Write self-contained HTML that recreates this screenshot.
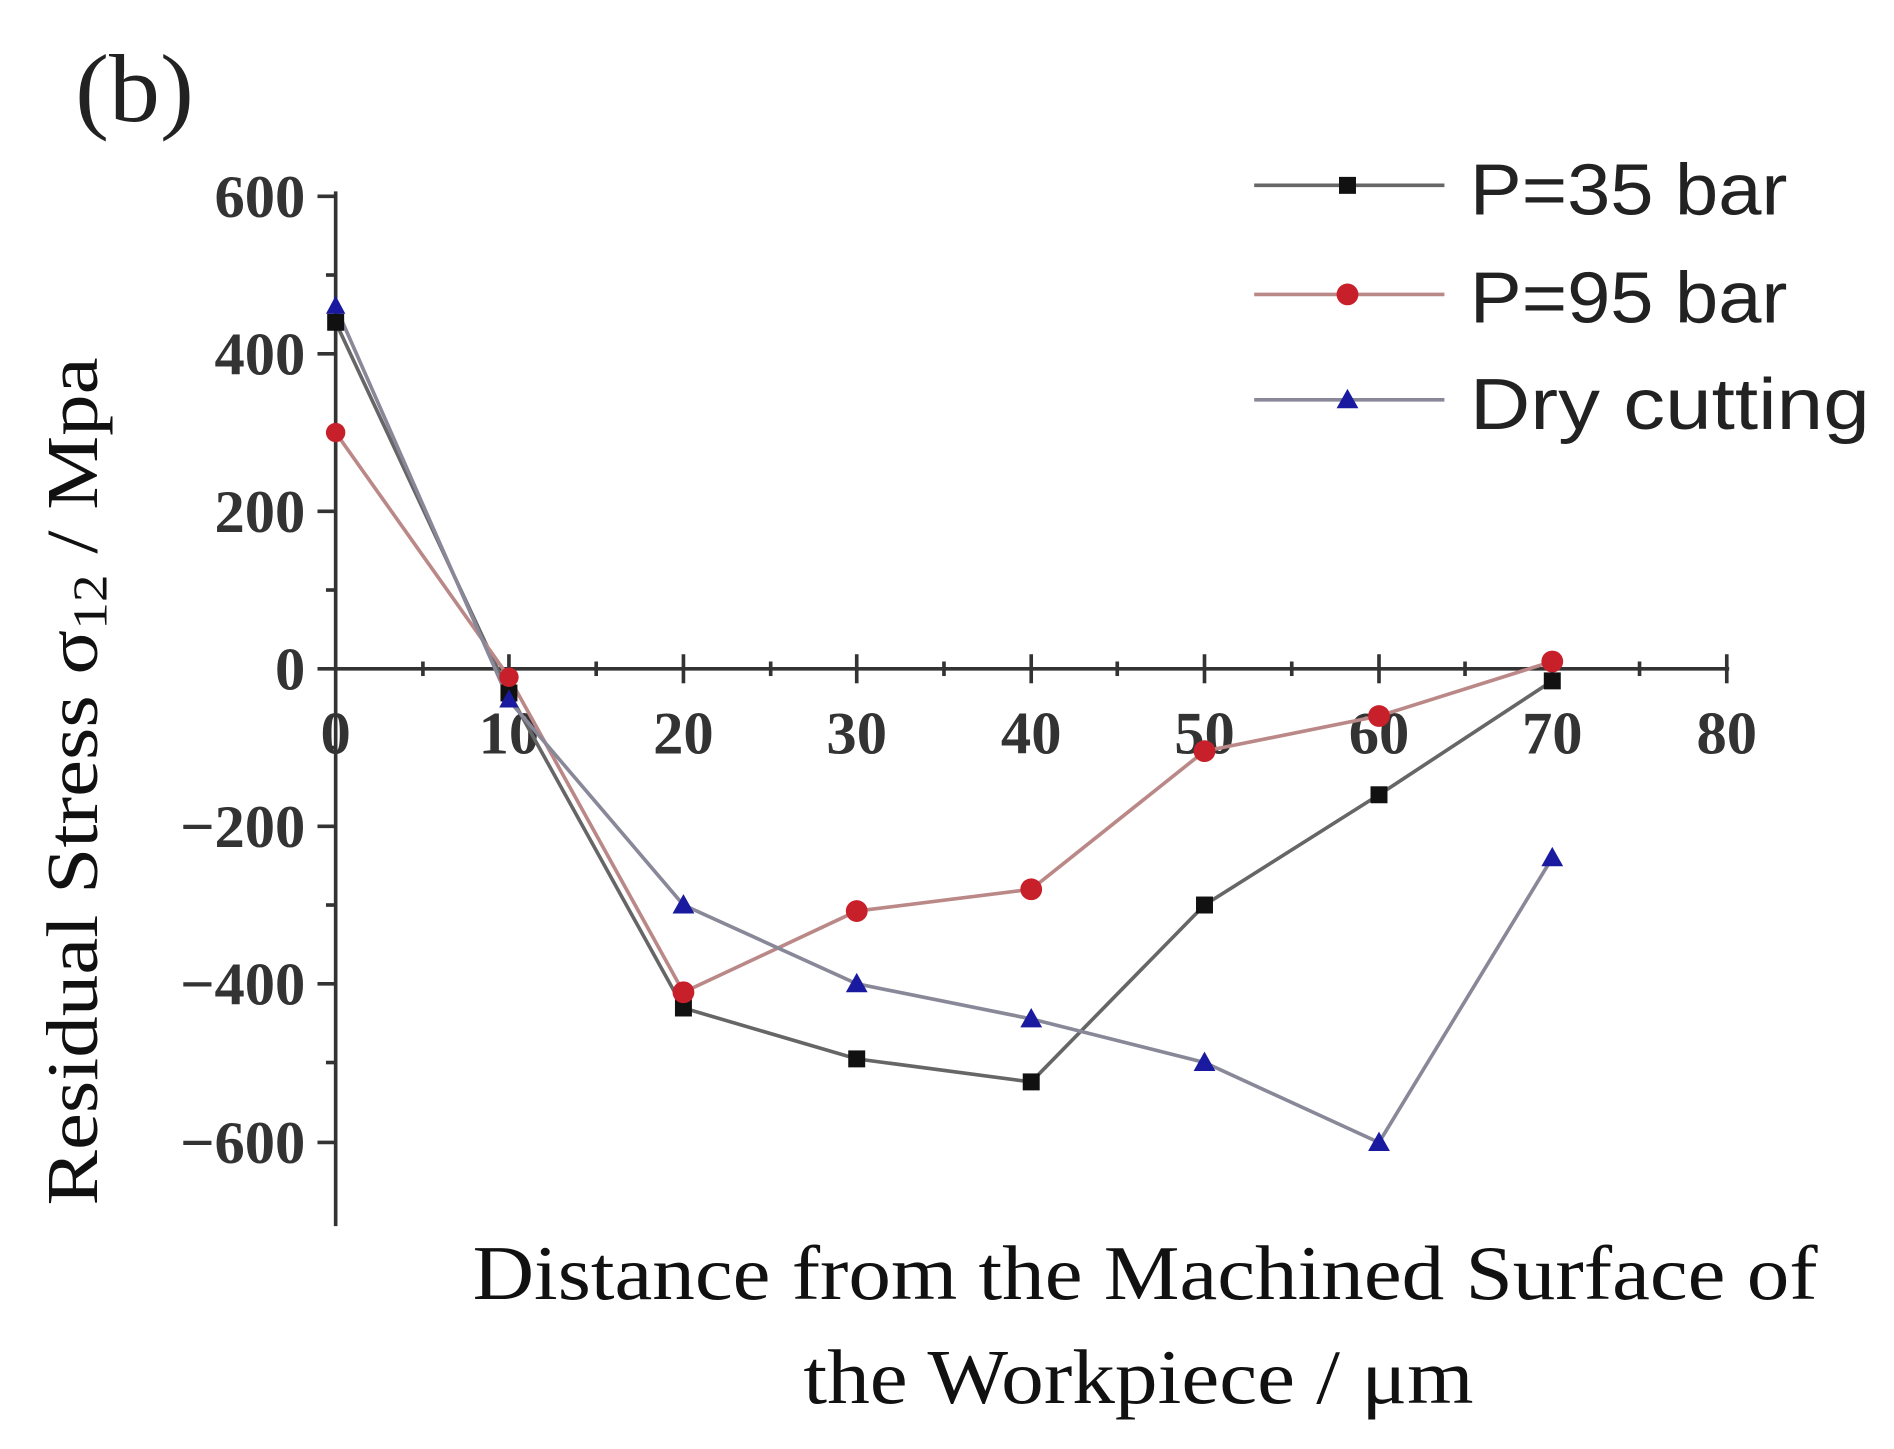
<!DOCTYPE html>
<html><head><style>html,body{margin:0;padding:0;background:#fff}svg{display:block}</style></head>
<body>
<svg width="1894" height="1449" viewBox="0 0 1563 1196" preserveAspectRatio="none" xmlns="http://www.w3.org/2000/svg" font-family="Liberation Serif, serif">
<rect width="1563" height="1196" fill="#fff"/>
<text x="62" y="100" font-size="80" fill="#222" textLength="98" lengthAdjust="spacingAndGlyphs">(b)</text>
<!-- axes -->
<g stroke="#333" stroke-width="3" fill="none">
<line x1="277" y1="158" x2="277" y2="1012"/>
<line x1="277" y1="552" x2="1427" y2="552"/>
</g>
<g stroke="#333" stroke-width="3">
<line x1="262" y1="162" x2="277" y2="162"/><line x1="262" y1="292" x2="277" y2="292"/><line x1="262" y1="422" x2="277" y2="422"/><line x1="262" y1="552" x2="277" y2="552"/><line x1="262" y1="682" x2="277" y2="682"/><line x1="262" y1="812" x2="277" y2="812"/><line x1="262" y1="943" x2="277" y2="943"/>
<line x1="269" y1="227" x2="277" y2="227"/><line x1="269" y1="357" x2="277" y2="357"/><line x1="269" y1="487" x2="277" y2="487"/><line x1="269" y1="617" x2="277" y2="617"/><line x1="269" y1="747" x2="277" y2="747"/><line x1="269" y1="877" x2="277" y2="877"/>
</g>
<g stroke="#333" stroke-width="3">
<line x1="420" y1="540" x2="420" y2="564"/><line x1="564" y1="540" x2="564" y2="564"/><line x1="707" y1="540" x2="707" y2="564"/><line x1="851" y1="540" x2="851" y2="564"/><line x1="994" y1="540" x2="994" y2="564"/><line x1="1138" y1="540" x2="1138" y2="564"/><line x1="1281" y1="540" x2="1281" y2="564"/><line x1="1425" y1="540" x2="1425" y2="564"/>
<line x1="349" y1="546" x2="349" y2="558"/><line x1="492" y1="546" x2="492" y2="558"/><line x1="636" y1="546" x2="636" y2="558"/><line x1="779" y1="546" x2="779" y2="558"/><line x1="922" y1="546" x2="922" y2="558"/><line x1="1066" y1="546" x2="1066" y2="558"/><line x1="1209" y1="546" x2="1209" y2="558"/><line x1="1353" y1="546" x2="1353" y2="558"/>
</g>
<g font-size="50" font-weight="bold" fill="#333" text-anchor="end">
<text x="252" y="179">600</text><text x="252" y="309">400</text><text x="252" y="439">200</text><text x="252" y="569">0</text><text x="252" y="699">−200</text><text x="252" y="829">−400</text><text x="252" y="960">−600</text>
</g>
<g font-size="50" font-weight="bold" fill="#333" text-anchor="middle">
<text x="277" y="622">0</text><text x="420" y="622">10</text><text x="564" y="622">20</text><text x="707" y="622">30</text><text x="851" y="622">40</text><text x="994" y="622">50</text><text x="1138" y="622">60</text><text x="1281" y="622">70</text><text x="1425" y="622">80</text>
</g>
<text transform="translate(80,645) rotate(-90)" font-size="60" text-anchor="middle" fill="#111" textLength="700" lengthAdjust="spacingAndGlyphs">Residual Stress σ<tspan font-size="40" dy="8">12</tspan><tspan dy="-8"> / Mpa</tspan></text>
<text x="390" y="1072" font-size="64" fill="#111" textLength="1110" lengthAdjust="spacingAndGlyphs">Distance from the Machined Surface of</text>
<text x="663" y="1158" font-size="64" fill="#111" textLength="553" lengthAdjust="spacingAndGlyphs">the Workpiece / μm</text>
<!-- series -->
<g fill="none" stroke-width="3">
<polyline stroke="#666" points="277,266 420,572 564,832 707,874 851,893 994,747 1138,656 1281,562"/>
<polyline stroke="#b88" points="277,357 420,559 564,819 707,752 851,734 994,620 1138,591 1281,546"/>
<polyline stroke="#889" points="277,253 420,578 564,747 707,812 851,841 994,877 1138,943 1281,708"/>
</g>
<g fill="#111">
<rect x="270" y="259" width="14" height="14"/><rect x="413" y="565" width="14" height="14"/><rect x="557" y="825" width="14" height="14"/><rect x="700" y="867" width="14" height="14"/><rect x="844" y="886" width="14" height="14"/><rect x="987" y="740" width="14" height="14"/><rect x="1131" y="649" width="14" height="14"/><rect x="1274" y="555" width="14" height="14"/>
</g>
<g fill="#c8202a">
<circle cx="277" cy="357" r="8"/><circle cx="420" cy="559" r="8"/><circle cx="564" cy="819" r="9"/><circle cx="707" cy="752" r="9"/><circle cx="851" cy="734" r="9"/><circle cx="994" cy="620" r="9"/><circle cx="1138" cy="591" r="9"/><circle cx="1281" cy="546" r="9"/>
</g>
<g fill="#1a1aa0">
<polygon points="277,244 269,259 285,259"/><polygon points="420,569 412,584 428,584"/><polygon points="564,738 555,754 573,754"/><polygon points="707,803 698,819 716,819"/><polygon points="851,832 842,848 860,848"/><polygon points="994,868 985,884 1003,884"/><polygon points="1138,934 1129,950 1147,950"/><polygon points="1281,699 1272,715 1290,715"/>
</g>
<!-- legend -->
<g stroke-width="3">
<line x1="1035" y1="153" x2="1192" y2="153" stroke="#666"/>
<line x1="1035" y1="243" x2="1192" y2="243" stroke="#b88"/>
<line x1="1035" y1="330" x2="1192" y2="330" stroke="#889"/>
</g>
<rect x="1105" y="146" width="14" height="14" fill="#111"/>
<circle cx="1112" cy="243" r="9" fill="#c8202a"/>
<polygon points="1112,321 1103,337 1121,337" fill="#1a1aa0"/>
<g font-size="60" fill="#222" font-family="Liberation Sans, sans-serif" lengthAdjust="spacingAndGlyphs">
<text x="1213" y="177" textLength="262" lengthAdjust="spacingAndGlyphs">P=35 bar</text>
<text x="1213" y="266" textLength="262" lengthAdjust="spacingAndGlyphs">P=95 bar</text>
<text x="1213" y="354" textLength="330" lengthAdjust="spacingAndGlyphs">Dry cutting</text>
</g>
</svg>
</body></html>
